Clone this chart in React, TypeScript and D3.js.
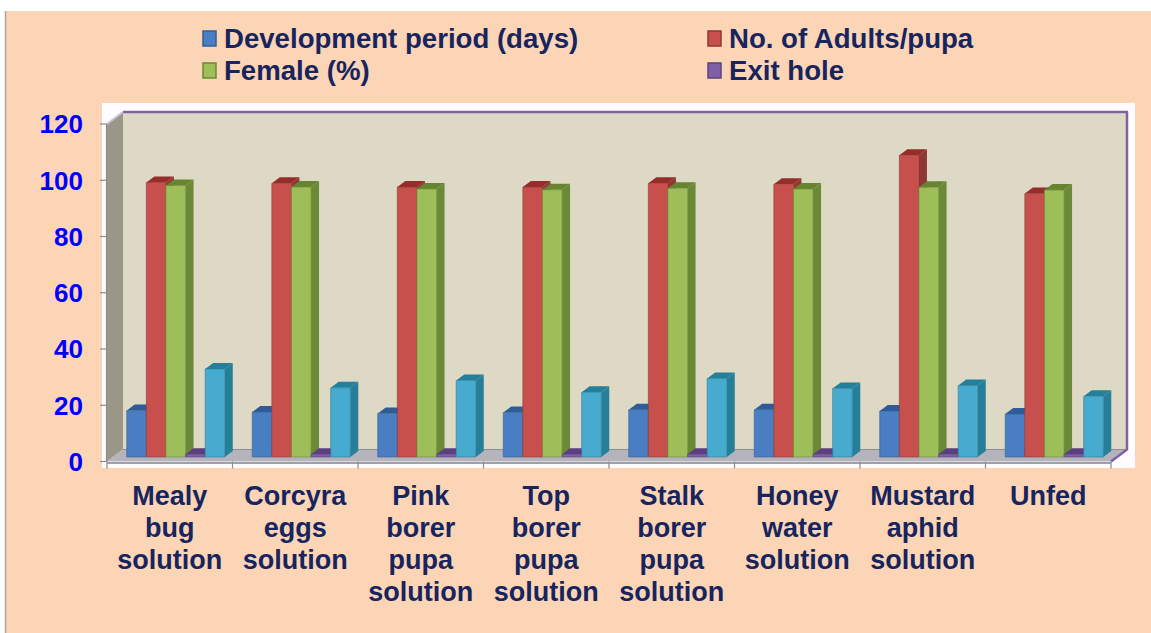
import React, { useEffect, useRef } from 'react';
import * as d3 from 'd3';

// data
const categories = [
  ['Mealy', 'bug', 'solution'],
  ['Corcyra', 'eggs', 'solution'],
  ['Pink', 'borer', 'pupa', 'solution'],
  ['Top', 'borer', 'pupa', 'solution'],
  ['Stalk', 'borer', 'pupa', 'solution'],
  ['Honey', 'water', 'solution'],
  ['Mustard', 'aphid', 'solution'],
  ['Unfed'],
];

const seriesNames = ['Development period (days)', 'No. of Adults/pupa', 'Female (%)', 'Exit hole', 'Series 5'];
const legendNames = seriesNames.slice(0, 4);

const developmentPeriod = [16.5, 16, 15.5, 15.8, 16.8, 16.8, 16.4, 15.3];
const adultsPerPupa = [97.6, 97.3, 96, 96, 97.3, 97, 107.3, 93.7];
const femalePct = [96.5, 96, 95.3, 95, 95.6, 95.3, 95.9, 94.9];
const exitHole = [1, 1, 1, 1, 1, 1, 1, 1];
const series5 = [31.3, 24.6, 27.2, 23, 27.9, 24.4, 25.4, 21.6];

const yTicks = [0, 20, 40, 60, 80, 100, 120];

// front, top, side colours per series
const palette = [
  { front: '#4A7EC2', top: '#2F5C96', side: '#345F95' },
  { front: '#C8504C', top: '#962D2A', side: '#8F3735' },
  { front: '#9DBE58', top: '#678530', side: '#6B8A37' },
  { front: '#7F5FA6', top: '#5B3F80', side: '#5B4380' },
  { front: '#47ABCF', top: '#237F9A', side: '#277E98' },
];

const FONT = '"Liberation Sans", Arial, sans-serif';

function App() {
  const node = useRef<SVGSVGElement | null>(null);

  useEffect(() => {
    const svg = d3.select(node.current);
    svg.selectAll('*').remove();

    const width = 1151;
    const height = 633;

    // 3d box geometry
    const x0 = 107, x1 = 1111;
    const depth = { dx: 16, dy: -12 };
    const barFront = 0.375, barBack = 0.875;

    const xScale = d3.scaleBand<number>()
      .domain(d3.range(categories.length))
      .range([x0, x1])
      .padding(0);

    const subScale = d3.scaleBand<number>()
      .domain(d3.range(seriesNames.length))
      .range([0, xScale.bandwidth()])
      .paddingInner(0)
      .paddingOuter(0.7);

    const yScale = d3.scaleLinear()
      .domain([0, 120])
      .range([461.5, 124]);

    // background
    svg.append('rect')
      .attr('x', 5).attr('y', 11)
      .attr('width', width - 5).attr('height', height - 11)
      .attr('fill', '#FBD5B5');
    svg.append('line')
      .attr('x1', 5.5).attr('x2', 5.5).attr('y1', 11).attr('y2', height)
      .attr('stroke', '#A6A6A6').attr('stroke-width', 1.5);

    // plot area
    svg.append('rect')
      .attr('x', 102).attr('y', 103)
      .attr('width', 1033).attr('height', 365)
      .attr('fill', '#FEFCFE');

    const yBottom = yScale(0);
    const yTop = yScale(120);
    const pt = (x: number, y: number, f: number) => [x + depth.dx * f, y + depth.dy * f];
    const poly = (pts: number[][]) => pts.map(p => p.join(',')).join(' ');

    // back wall
    svg.append('polygon')
      .attr('points', poly([pt(x0, yTop, 1), pt(x1, yTop, 1), pt(x1, yBottom, 1), pt(x0, yBottom, 1)]))
      .attr('fill', '#DDD9C4');

    // side wall
    svg.append('polygon')
      .attr('points', poly([pt(x0, yBottom, 0), pt(x0, yTop, 0), pt(x0, yTop, 1), pt(x0, yBottom, 1)]))
      .attr('fill', '#9A9786');

    // floor
    svg.append('polygon')
      .attr('points', poly([pt(x0, yBottom, 0), pt(x1, yBottom, 0), pt(x1, yBottom, 1), pt(x0, yBottom, 1)]))
      .attr('fill', '#B5B3BB');
    svg.append('line')
      .attr('x1', pt(x0, yBottom, 1)[0]).attr('y1', pt(x0, yBottom, 1)[1])
      .attr('x2', pt(x1, yBottom, 1)[0]).attr('y2', pt(x1, yBottom, 1)[1])
      .attr('stroke', '#8E8C94').attr('stroke-width', 1.2);

    // wall border
    svg.append('line')
      .attr('x1', pt(x0, yTop, 0)[0]).attr('y1', pt(x0, yTop, 0)[1])
      .attr('x2', pt(x0, yTop, 1)[0]).attr('y2', pt(x0, yTop, 1)[1])
      .attr('stroke', '#C9BEDA').attr('stroke-width', 2);
    svg.append('polyline')
      .attr('points', poly([pt(x0, yTop, 1), pt(x1, yTop, 1), pt(x1, yBottom, 1), pt(x1, yBottom, 0)]))
      .attr('fill', 'none')
      .attr('stroke', '#8064A2')
      .attr('stroke-width', 2.5)
      .attr('stroke-linejoin', 'round');

    // bars
    const values = [developmentPeriod, adultsPerPupa, femalePct, exitHole, series5];
    const bars = svg.append('g');

    categories.forEach((_, ci) => {
      values.forEach((vals, si) => {
        const v = vals[ci];
        const c = palette[si];
        const bx = (xScale(ci) as number) + (subScale(si) as number);
        const bw = subScale.bandwidth();
        const yt = yScale(v);
        const f0 = barFront, f1 = barBack;

        bars.append('polygon')
          .attr('points', poly([pt(bx + bw, yt, f0), pt(bx + bw, yBottom, f0), pt(bx + bw, yBottom, f1), pt(bx + bw, yt, f1)]))
          .attr('fill', c.side);
        bars.append('polygon')
          .attr('points', poly([pt(bx, yt, f0), pt(bx + bw, yt, f0), pt(bx + bw, yt, f1), pt(bx, yt, f1)]))
          .attr('fill', c.top);
        bars.append('polygon')
          .attr('points', poly([pt(bx, yt, f0), pt(bx + bw, yt, f0), pt(bx + bw, yBottom, f0), pt(bx, yBottom, f0)]))
          .attr('fill', c.front)
          .attr('stroke', c.side)
          .attr('stroke-width', 0.6);
      });
    });

    // y axis
    const yAxis = svg.append('g');
    yAxis.append('line')
      .attr('x1', x0 - 0.5).attr('x2', x0 - 0.5)
      .attr('y1', yTop).attr('y2', yBottom)
      .attr('stroke', '#8C8C8C').attr('stroke-width', 1.2);
    yTicks.forEach(t => {
      yAxis.append('line')
        .attr('x1', x0 - 7).attr('x2', x0)
        .attr('y1', yScale(t)).attr('y2', yScale(t))
        .attr('stroke', '#8C8C8C').attr('stroke-width', 1.2);
      yAxis.append('text')
        .attr('x', 83).attr('y', yScale(t))
        .attr('dy', '0.36em')
        .attr('text-anchor', 'end')
        .attr('font-family', FONT)
        .attr('font-weight', 'bold')
        .attr('font-size', 26)
        .attr('fill', '#0000FF')
        .text(t);
    });

    // x axis
    const xAxis = svg.append('g');
    xAxis.append('line')
      .attr('x1', x0).attr('x2', x1)
      .attr('y1', yBottom + 1.5).attr('y2', yBottom + 1.5)
      .attr('stroke', '#A0A0A8').attr('stroke-width', 2);
    d3.range(categories.length + 1).forEach(i => {
      const tx = x0 + i * xScale.step();
      xAxis.append('line')
        .attr('x1', tx).attr('x2', tx)
        .attr('y1', yBottom).attr('y2', yBottom + 7)
        .attr('stroke', '#8C8C8C').attr('stroke-width', 1.2);
    });
    categories.forEach((lines, ci) => {
      const cx = (xScale(ci) as number) + xScale.bandwidth() / 2;
      const label = xAxis.append('text')
        .attr('text-anchor', 'middle')
        .attr('font-family', FONT)
        .attr('font-weight', 'bold')
        .attr('font-size', 27)
        .attr('fill', '#17245E');
      lines.forEach((l, li) => {
        label.append('tspan')
          .attr('x', cx)
          .attr('y', 505 + li * 32)
          .text(l);
      });
    });

    // legend
    const legend = svg.append('g');
    const legendPos = [[203, 48], [708, 48], [203, 80], [708, 80]];
    legendNames.forEach((name, si) => {
      const [lx, ly] = legendPos[si];
      legend.append('rect')
        .attr('x', lx).attr('y', ly - 17)
        .attr('width', 13).attr('height', 15)
        .attr('fill', palette[si].front)
        .attr('stroke', palette[si].side)
        .attr('stroke-width', 1.5);
      legend.append('text')
        .attr('x', lx + 21).attr('y', ly)
        .attr('font-family', FONT)
        .attr('font-weight', 'bold')
        .attr('font-size', 27.6)
        .attr('fill', '#17245E')
        .text(name);
    });
  }, []);

  return (
    <svg
      ref={node}
      width={1151}
      height={633}
      style={{ position: 'absolute', left: 0, top: 0, display: 'block', background: '#fff' }}
    />
  );
}

export default App;
